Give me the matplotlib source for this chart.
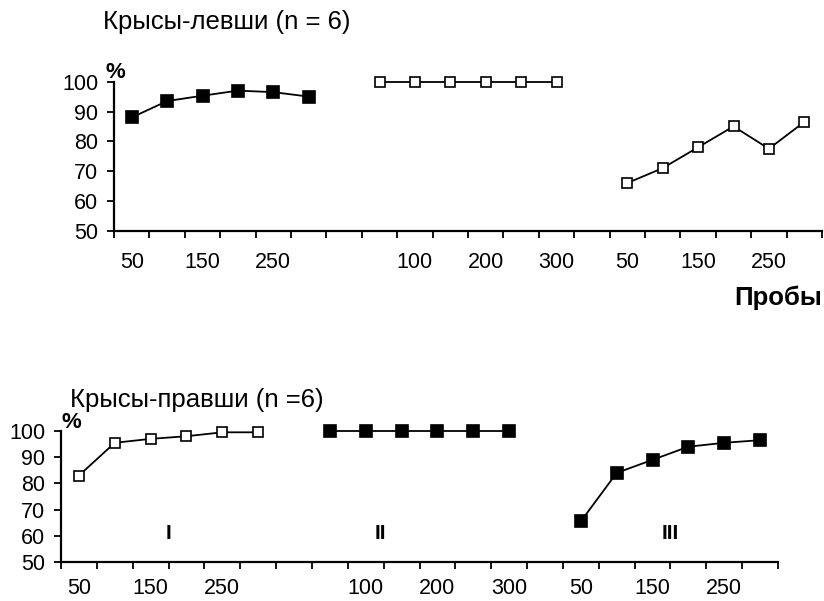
import matplotlib
matplotlib.use("Agg")
import matplotlib.pyplot as plt
import numpy as np

plt.rcParams['font.family'] = ['Liberation Sans', 'DejaVu Sans']

# ---- data ----
cat_labels = ['50', '100', '150', '200', '250', '300', '',
              '50', '100', '150', '200', '250', '300', '',
              '50', '100', '150', '200', '250', '300']
shown_labels = ['50', '', '150', '', '250', '', '',
                '', '100', '', '200', '', '300', '',
                '50', '', '150', '', '250', '']

left_seg1 = [88, 93.5, 95.3, 97, 96.5, 95]
left_seg2 = [100, 100, 100, 100, 100, 100]
left_seg3 = [66, 71, 78, 85, 77.5, 86.5]

right_seg1 = [83, 95.5, 97, 98, 99.5, 99.5]
right_seg2 = [100, 100, 100, 100, 100, 100]
right_seg3 = [65.5, 84, 89, 94, 95.5, 96.5]

yticks = [50, 60, 70, 80, 90, 100]
seg_idx = [list(range(0, 6)), list(range(7, 13)), list(range(14, 20))]
roman = ['I', 'II', 'III']

W, H = 824, 601
fig = plt.figure(figsize=(W / 100, H / 100), dpi=100)

TICK_FS = 15.5
TITLE_FS = 18.5

def px_rect(x0, x1, y_bottom, y_top):
    return [x0 / W, 1 - y_bottom / H, (x1 - x0) / W, (y_bottom - y_top) / H]

def setup(ax, xpad):
    n = len(cat_labels)
    ax.set_xlim(-0.5, n - 0.5)
    ax.set_ylim(50, 100)
    for s in ['top', 'right']:
        ax.spines[s].set_visible(False)
    for s in ['left', 'bottom']:
        ax.spines[s].set_linewidth(1.6)
    ax.set_yticks(yticks)
    ax.set_yticklabels([str(v) for v in yticks], fontsize=TICK_FS)
    ax.tick_params(axis='y', which='major', length=5, width=1.3, pad=6.5, direction='out')
    ax.set_xticks(np.arange(n + 1) - 0.5)
    ax.set_xticklabels([])
    ax.tick_params(axis='x', which='major', length=5, width=1.3, direction='out')
    ax.set_xticks(np.arange(n), minor=True)
    ax.set_xticklabels(shown_labels, minor=True, fontsize=TICK_FS)
    ax.tick_params(axis='x', which='minor', length=0, pad=xpad)

def seg(ax, xs, ys, filled, ms):
    ax.plot(xs, ys, color='black', lw=1.3, marker='s', ms=ms,
            mfc='black' if filled else 'white', mec='black', mew=1.2,
            clip_on=False, zorder=3)

# top panel
ax1 = fig.add_axes(px_rect(114, 822, 230.7, 81.7))
setup(ax1, 15)
seg(ax1, seg_idx[0], left_seg1, True, 9)
seg(ax1, seg_idx[1], left_seg2, False, 7.5)
seg(ax1, seg_idx[2], left_seg3, False, 7.5)

# bottom panel
ax2 = fig.add_axes(px_rect(61, 778, 562, 431))
setup(ax2, 11.5)
seg(ax2, seg_idx[0], right_seg1, False, 7.5)
seg(ax2, seg_idx[1], right_seg2, True, 8)
seg(ax2, seg_idx[2], right_seg3, True, 8)

for xr, lab in zip([2.5, 8.4, 16.5], roman):
    ax2.text(xr, 61, lab, ha='center', va='center', fontsize=15, fontweight='bold')

# texts
fig.text(103 / W, 1 - 22 / H, 'Крысы-левши (n = 6)', fontsize=TITLE_FS, ha='left', va='center')
fig.text(115 / W, 1 - 73 / H, '%', fontsize=16, fontweight='bold', ha='center', va='center')
fig.text(822 / W, 1 - 298 / H, 'Пробы', fontsize=TITLE_FS, fontweight='bold', ha='right', va='center')
fig.text(70 / W, 1 - 400 / H, 'Крысы-правши (n =6)', fontsize=TITLE_FS, ha='left', va='center')
fig.text(71 / W, 1 - 423 / H, '%', fontsize=16, fontweight='bold', ha='center', va='center')

fig.savefig('out.png', dpi=100)
